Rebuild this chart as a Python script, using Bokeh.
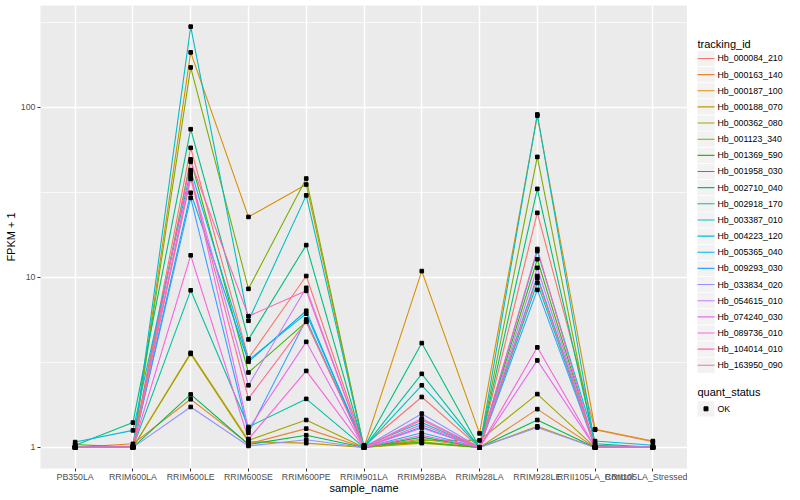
from bokeh.plotting import figure
from bokeh.layouts import row
from bokeh.models import FactorRange, Range1d, FixedTicker, PrintfTickFormatter
from bokeh.core.properties import value
from bokeh.embed import file_html
from bokeh.resources import INLINE

samples = ["PB350LA", "RRIM600LA", "RRIM600LE", "RRIM600SE", "RRIM600PE",
           "RRIM901LA", "RRIM928BA", "RRIM928LA", "RRIM928LE",
           "RRII105LA_Control", "RRII105LA_Stressed"]

tracking_ids = ["Hb_000084_210", "Hb_000163_140", "Hb_000187_100", "Hb_000188_070",
                "Hb_000362_080", "Hb_001123_340", "Hb_001369_590", "Hb_001958_030",
                "Hb_002710_040", "Hb_002918_170", "Hb_003387_010", "Hb_004223_120",
                "Hb_005365_040", "Hb_009293_030", "Hb_033834_020", "Hb_054615_010",
                "Hb_074240_030", "Hb_089736_010", "Hb_104014_010", "Hb_163950_090"]

colors = ["#F8766D", "#EA8331", "#D89000", "#C09B00", "#A3A500", "#7CAE00", "#39B600",
          "#00BB4E", "#00BF7D", "#00C1A3", "#00BFC4", "#00BAE0", "#00B0F6", "#35A2FF",
          "#9590FF", "#C77CFF", "#E76BF3", "#FA62DB", "#FF62BC", "#FF6C91"]

quant_status = ["OK"]

# FPKM + 1 per sample (order as in `samples`)
hb_000084_210 = [1.00, 1.02, 57.9, 3.34, 10.2, 1.02, 1.98, 1.00, 24.0, 1.27, 1.08]
hb_000163_140 = [1.00, 1.05, 1.92, 1.05, 1.29, 1.00, 1.12, 1.00, 1.68, 1.00, 1.00]
hb_000187_100 = [1.00, 1.00, 211.0, 22.7, 35.2, 1.00, 10.9, 1.21, 89.5, 1.28, 1.09]
hb_000188_070 = [1.00, 1.00, 3.55, 1.08, 1.06, 1.00, 1.06, 1.00, 1.33, 1.00, 1.00]
hb_000362_080 = [1.00, 1.00, 3.60, 1.10, 1.45, 1.00, 1.10, 1.10, 2.06, 1.00, 1.00]
hb_001123_340 = [1.00, 1.00, 172.0, 8.57, 38.2, 1.00, 1.08, 1.00, 51.2, 1.00, 1.00]
hb_001369_590 = [1.04, 1.00, 49.5, 2.76, 5.48, 1.03, 1.07, 1.00, 12.8, 1.00, 1.00]
hb_001958_030 = [1.00, 1.00, 2.05, 1.04, 1.18, 1.00, 1.15, 1.00, 1.45, 1.00, 1.00]
hb_002710_040 = [1.03, 1.40, 74.5, 4.32, 15.5, 1.00, 4.11, 1.00, 33.2, 1.05, 1.00]
hb_002918_170 = [1.00, 1.00, 8.40, 1.32, 1.93, 1.00, 2.71, 1.00, 9.30, 1.00, 1.00]
hb_003387_010 = [1.00, 1.00, 299.0, 5.56, 30.4, 1.00, 2.32, 1.00, 91.0, 1.03, 1.00]
hb_004223_120 = [1.075, 1.26, 42.8, 3.26, 6.13, 1.02, 1.40, 1.00, 14.3, 1.09, 1.03]
hb_005365_040 = [1.00, 1.00, 31.5, 3.19, 6.37, 1.00, 1.32, 1.00, 10.2, 1.00, 1.00]
hb_009293_030 = [1.00, 1.00, 29.4, 1.22, 5.66, 1.00, 1.22, 1.00, 8.45, 1.00, 1.00]
hb_033834_020 = [1.00, 1.00, 1.73, 1.02, 1.11, 1.00, 1.58, 1.00, 1.31, 1.00, 1.00]
hb_054615_010 = [1.00, 1.00, 39.4, 2.32, 8.69, 1.00, 1.48, 1.00, 11.4, 1.00, 1.00]
hb_074240_030 = [1.00, 1.00, 40.9, 1.28, 4.18, 1.00, 1.30, 1.00, 3.25, 1.00, 1.00]
hb_089736_010 = [1.00, 1.00, 13.5, 1.12, 2.82, 1.00, 1.18, 1.00, 3.88, 1.00, 1.00]
hb_104014_010 = [1.00, 1.00, 48.0, 5.92, 8.34, 1.00, 1.36, 1.00, 14.7, 1.00, 1.00]
hb_163950_090 = [1.00, 1.00, 38.0, 1.94, 5.50, 1.00, 1.45, 1.00, 9.90, 1.00, 1.00]

series = [hb_000084_210, hb_000163_140, hb_000187_100, hb_000188_070, hb_000362_080,
          hb_001123_340, hb_001369_590, hb_001958_030, hb_002710_040, hb_002918_170,
          hb_003387_010, hb_004223_120, hb_005365_040, hb_009293_030, hb_033834_020,
          hb_054615_010, hb_074240_030, hb_089736_010, hb_104014_010, hb_163950_090]

y_ticks = [1, 10, 100]
y_minor = [10 ** 0.5, 10 ** 1.5, 10 ** 2.5]

FONT = "Liberation Sans"
H = 497

p = figure(x_range=FactorRange(factors=samples, range_padding=0.1,
                               range_padding_units="absolute"),
           y_axis_type="log", y_range=Range1d(10 ** -0.124, 10 ** 2.6),
           frame_width=647, frame_height=463,
           min_border_left=40, min_border_top=5, min_border_right=0, min_border_bottom=0,
           output_backend="svg", toolbar_location=None)

p.background_fill_color = "#EBEBEB"
p.border_fill_color = "white"
p.outline_line_color = None

# grid
p.xgrid.grid_line_color = "white"
p.xgrid.grid_line_width = 1.4
p.ygrid.grid_line_color = "white"
p.ygrid.grid_line_width = 1.4
p.ygrid.minor_grid_line_color = "white"
p.ygrid.minor_grid_line_width = 0.7

# axes
p.yaxis.ticker = FixedTicker(ticks=y_ticks, minor_ticks=y_minor)
p.yaxis.formatter = PrintfTickFormatter(format="%d")
for ax in (p.xaxis[0], p.yaxis[0]):
    ax.axis_line_color = None
    ax.major_tick_line_color = "#333333"
    ax.major_tick_out = 3
    ax.major_tick_in = 0
    ax.minor_tick_line_color = None
    ax.major_label_text_color = "#4D4D4D"
    ax.major_label_text_font = FONT
    ax.major_label_text_font_size = "8.8px"
    ax.axis_label_text_font = FONT
    ax.axis_label_text_font_size = "11px"
    ax.axis_label_text_font_style = "normal"
    ax.axis_label_text_color = "black"
p.xaxis.major_label_standoff = 0
p.xaxis.axis_label_standoff = -3
p.yaxis.major_label_standoff = 1
p.yaxis.axis_label_standoff = 1
p.xaxis.axis_label = "sample_name"
p.yaxis.axis_label = "FPKM + 1"

for vals, col in zip(series, colors):
    p.line(x=samples, y=vals, line_color=col, line_width=1.1)

all_x = [s for vals in series for s in samples]
all_y = [v for vals in series for v in vals]
p.scatter(x=all_x, y=all_y, marker="square", size=3.6, color="black")

# ---- legend panel: a pixel-space canvas to the right of the plot ----
LW = 113
lf = figure(width=LW, height=H, x_range=Range1d(0, LW), y_range=Range1d(H, 0),
            x_axis_location=None, y_axis_location=None,
            min_border_left=0, min_border_top=0, min_border_right=0, min_border_bottom=0,
            output_backend="svg", toolbar_location=None)
lf.grid.visible = False
lf.outline_line_color = None
lf.background_fill_color = "white"
lf.border_fill_color = "white"

key_x0, key_w, pitch = 10, 17, 17.3
first_y = 56.7
ys = [first_y + pitch * i for i in range(len(tracking_ids))]
kx = [key_x0 + key_w / 2] * len(ys)

lf.text(x=[key_x0], y=[41], text=["tracking_id"], text_font=value(FONT),
        text_font_size=value("11px"), text_baseline="middle", text_align="left",
        text_color="black")
lf.rect(x=kx, y=ys, width=key_w, height=16.3, fill_color="#F2F2F2", line_color=None)
lf.segment(x0=[key_x0] * len(ys), x1=[key_x0 + key_w] * len(ys), y0=ys, y1=ys,
           line_color=colors, line_width=1.1)
lf.text(x=[key_x0 + key_w + 3] * len(ys), y=ys, text=tracking_ids, text_font=value(FONT),
        text_font_size=value("8.8px"), text_baseline="middle", text_align="left",
        text_color="black")

q_title_y, q_y = 414, 432
lf.text(x=[key_x0], y=[q_title_y], text=["quant_status"], text_font=value(FONT),
        text_font_size=value("11px"), text_baseline="middle", text_align="left",
        text_color="black")
lf.rect(x=[key_x0 + key_w / 2], y=[q_y], width=key_w, height=16.3,
        fill_color="#F2F2F2", line_color=None)
lf.scatter(x=[key_x0 + key_w / 2], y=[q_y], marker="square", size=4, color="black")
lf.text(x=[key_x0 + key_w + 3], y=[q_y], text=quant_status, text_font=value(FONT),
        text_font_size=value("8.8px"), text_baseline="middle", text_align="left",
        text_color="black")

layout = row(p, lf)
open("out.html", "w").write(file_html(layout, INLINE))
